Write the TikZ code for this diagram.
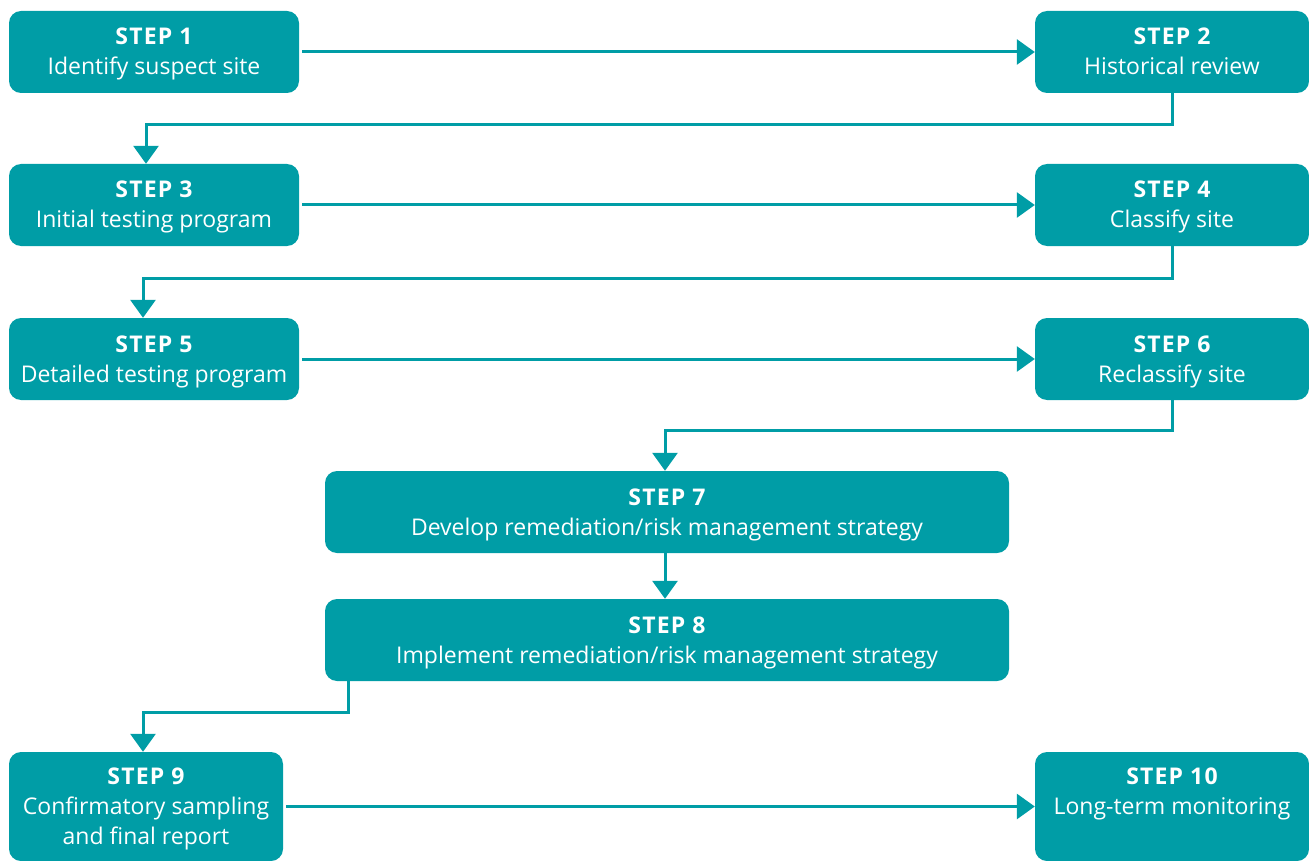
\documentclass[tikz,border=0pt]{standalone}
\usepackage{fontspec}
\setmainfont{Open Sans}
\usetikzlibrary{arrows.meta}
\definecolor{stepteal}{RGB}{0,157,166}
\newcommand{\stephead}[1]{\rule{0pt}{25pt}{\bfseries\addfontfeature{LetterSpace=5}#1}}
\begin{document}
\begin{tikzpicture}[x=1pt,y=-1pt,
  box/.style={fill=stepteal, rounded corners=12pt, text=white, align=center,
    font=\fontsize{23}{30}\selectfont, inner sep=0pt},
  smallbox/.style={box, minimum width=290pt, minimum height=82pt},
  rbox/.style={box, minimum width=274pt, minimum height=82pt},
  widebox/.style={box, minimum width=684pt, minimum height=82pt},
  conn/.style={draw=stepteal, line width=3pt, -{Triangle[width=25pt,length=18pt]}}]
\useasboundingbox (0,0) rectangle (1309,861);
\node[smallbox] (s1) at (154,52) {\stephead{STEP 1}\\\strut Identify suspect site};
\node[rbox] (s2) at (1172,52) {\stephead{STEP 2}\\\strut Historical review};
\node[smallbox] (s3) at (154,205) {\stephead{STEP 3}\\\strut Initial testing program};
\node[rbox] (s4) at (1172,205) {\stephead{STEP 4}\\\strut Classify site};
\node[smallbox] (s5) at (154,359) {\stephead{STEP 5}\\\strut Detailed testing program};
\node[rbox] (s6) at (1172,359) {\stephead{STEP 6}\\\strut Reclassify site};
\node[widebox] (s7) at (667,512) {\stephead{STEP 7}\\\strut Develop remediation/risk management strategy};
\node[widebox] (s8) at (667,640) {\stephead{STEP 8}\\\strut Implement remediation/risk management strategy};
\node[box, minimum width=274pt, minimum height=109pt] (s9) at (146,806.5) {\stephead{STEP 9}\\\strut Confirmatory sampling\\\strut and final report};
\node[box, minimum width=274pt, minimum height=109pt] (s10) at (1172,806.5) {\stephead{STEP 10}\\\strut Long-term monitoring\\\strut};
\draw[conn, shorten <=3pt] (s1.east) -- (s2.west);
\draw[conn] (s2.south) -- ++(0,31) -| ([xshift=-8pt]s3.north);
\draw[conn, shorten <=3pt] (s3.east) -- (s4.west);
\draw[conn] (s4.south) -- ++(0,32) -| ([xshift=-11pt]s5.north);
\draw[conn, shorten <=3pt] (s5.east) -- (s6.west);
\draw[conn] (s6.south) -- ++(0,30) -| ([xshift=-2pt]s7.north);
\draw[conn] ([xshift=-2pt]s7.south) -- ([xshift=-2pt]s8.north);
\draw[conn] ([xshift=24pt]s8.south west) -- ++(0,31) -| ([xshift=-3pt]s9.north);
\draw[conn, shorten <=3pt] (s9.east) -- (s10.west);
\end{tikzpicture}
\end{document}
